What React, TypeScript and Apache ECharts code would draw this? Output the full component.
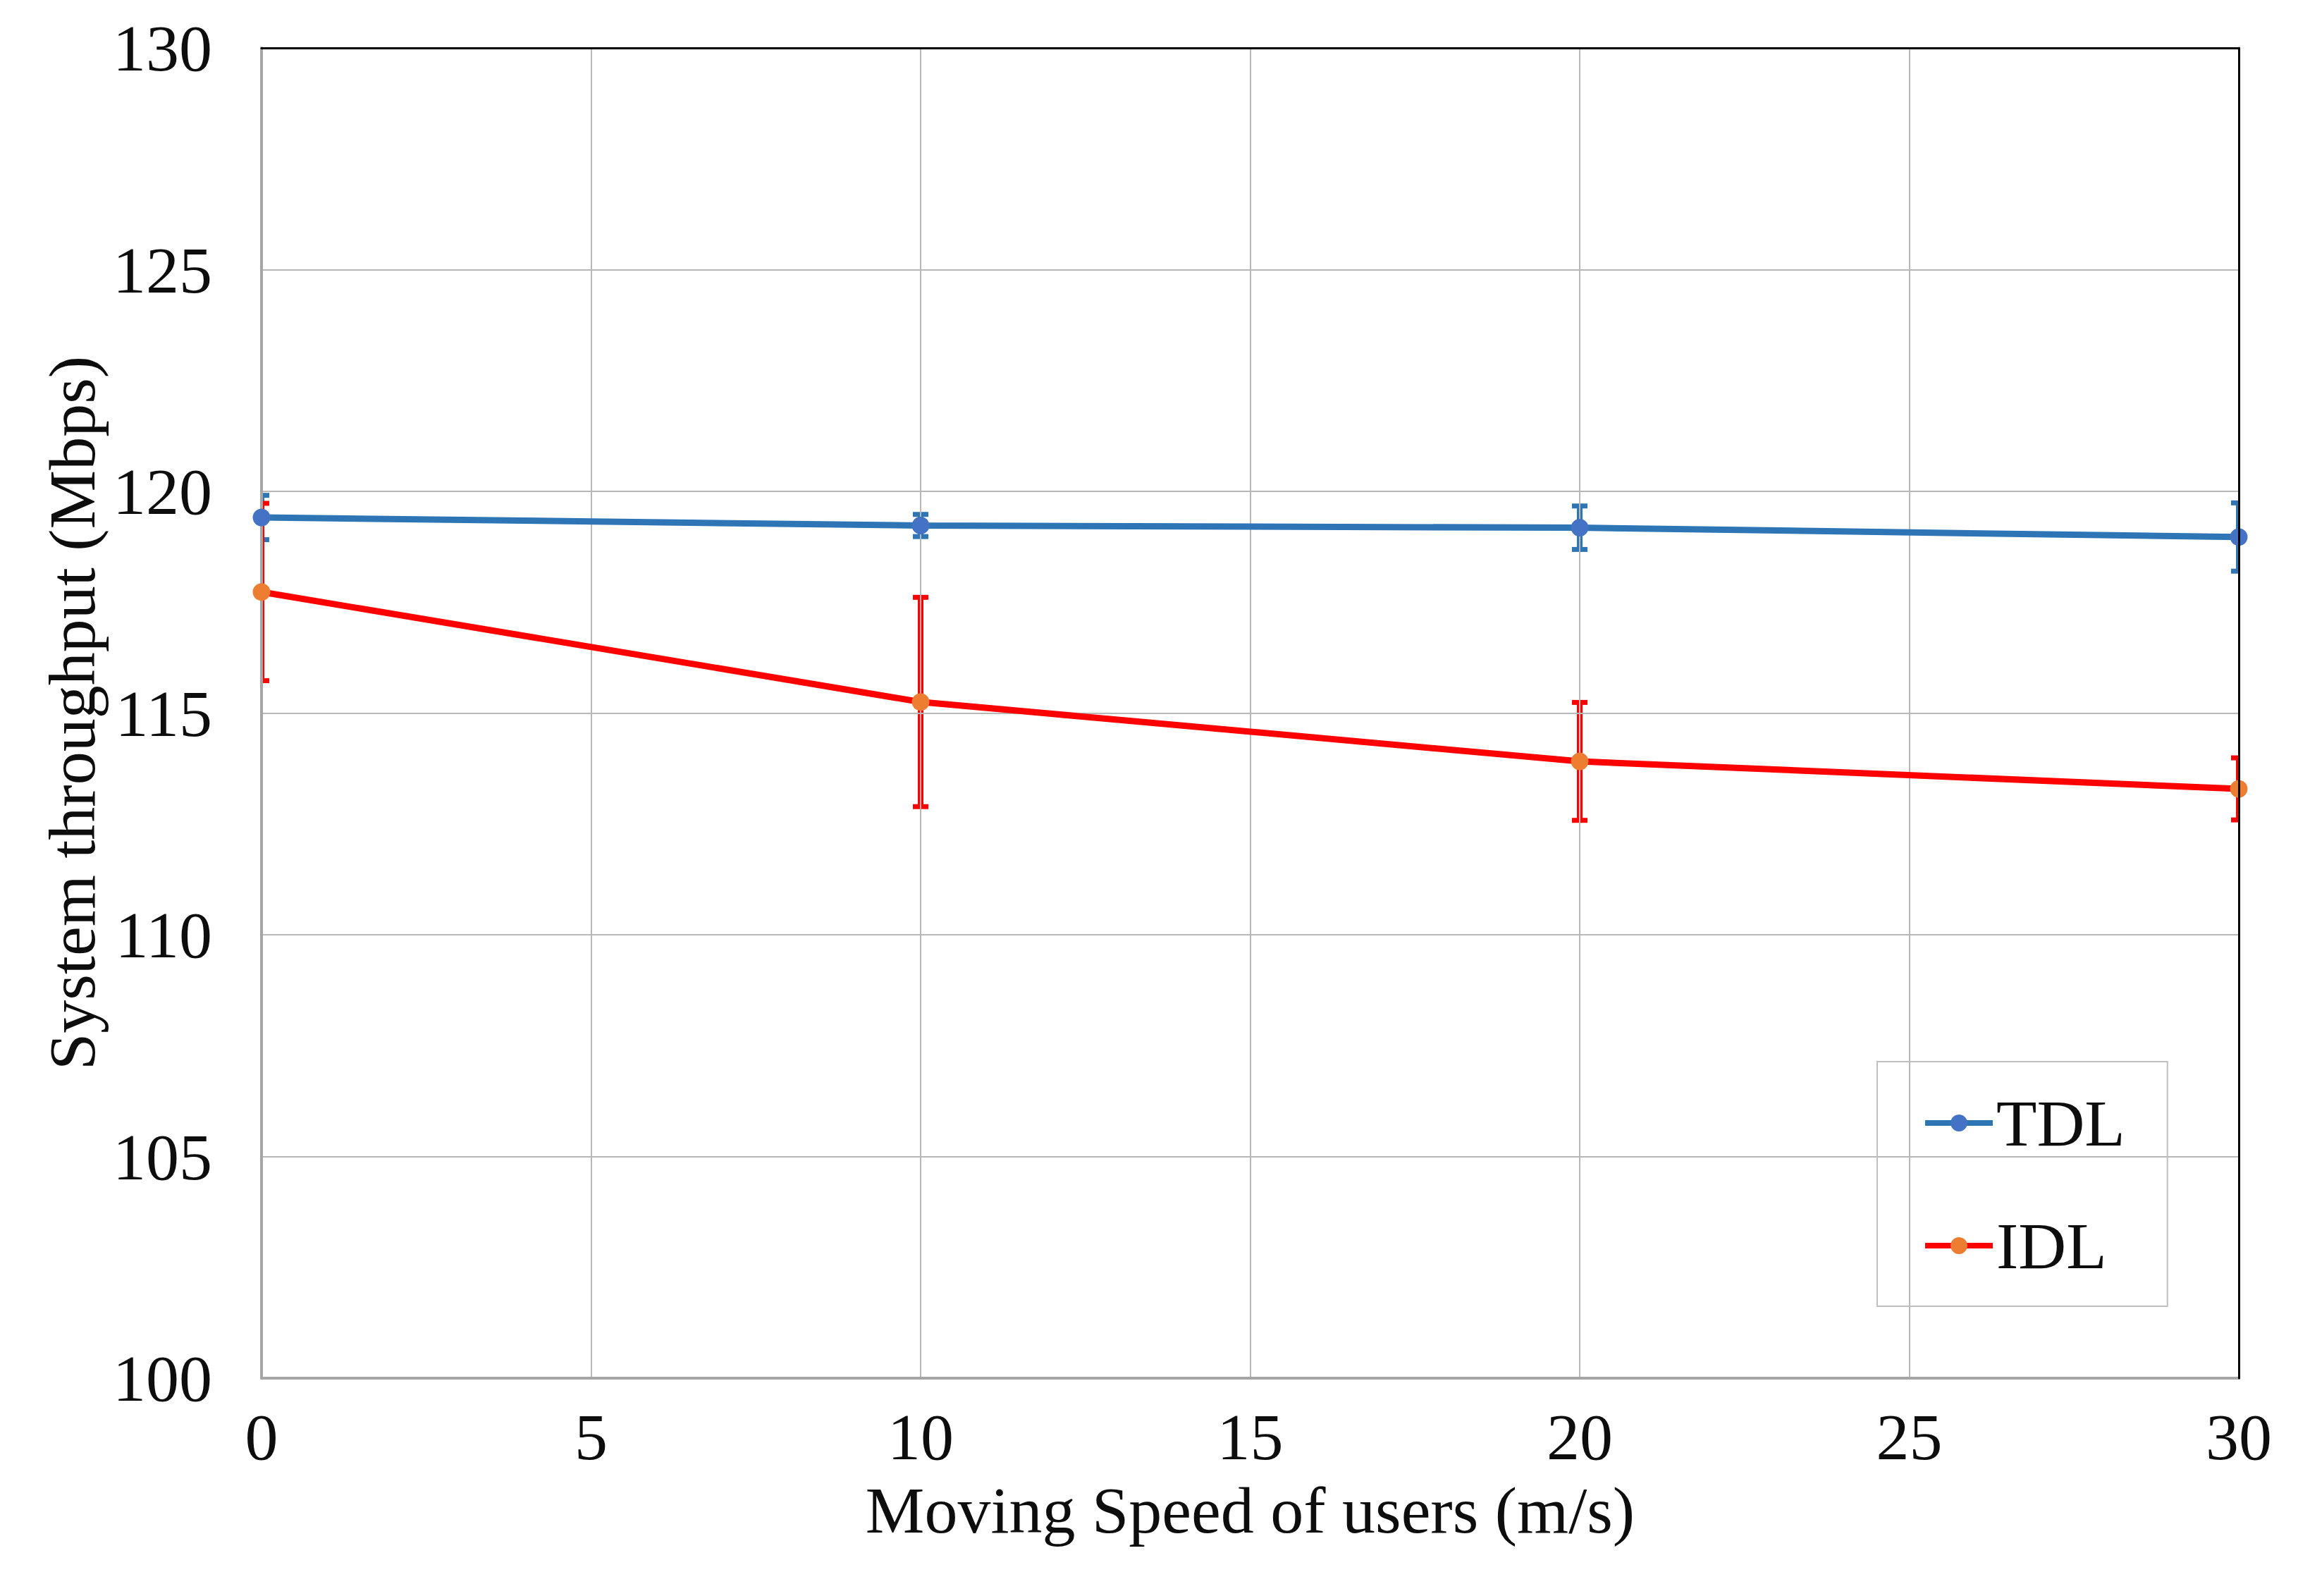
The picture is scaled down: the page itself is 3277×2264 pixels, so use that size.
import React, { useEffect, useRef } from "react";
import * as echarts from "echarts";

const speeds = [0, 10, 20, 30];
const tdlValues = [119.41, 119.23, 119.18, 118.97];
const tdlErrors = [0.5, 0.25, 0.49, 0.77];
const idlValues = [117.73, 115.25, 113.91, 113.29];
const idlErrors = [2.0, 2.36, 1.33, 0.7];
const xTicks = { min: 0, max: 30, interval: 5 };
const yTicks = { min: 100, max: 130, interval: 5 };

const FONT = "'Liberation Serif', 'Times New Roman', serif";

function errorSeries(name: string, values: number[], errors: number[], color: string) {
  return {
    type: "custom",
    name: name + " error",
    clip: true,
    z: 1,
    silent: true,
    data: speeds.map((s, i) => [s, values[i] - errors[i], values[i] + errors[i]]),
    encode: { x: 0, y: [1, 2] },
    renderItem: (params: any, api: any) => {
      const x = api.value(0);
      const lo = api.coord([x, api.value(1)]);
      const hi = api.coord([x, api.value(2)]);
      const cw = 22;
      const ch = 7;
      return {
        type: "group",
        children: [
          { type: "line", shape: { x1: lo[0], y1: lo[1], x2: hi[0], y2: hi[1] }, style: { stroke: color, lineWidth: 8 } },
          { type: "rect", shape: { x: hi[0] - cw / 2, y: hi[1] - ch / 2, width: cw, height: ch }, style: { fill: color } },
          { type: "rect", shape: { x: lo[0] - cw / 2, y: lo[1] - ch / 2, width: cw, height: ch }, style: { fill: color } },
        ],
      };
    },
  };
}

const frameAxis = {
  show: true,
  axisLine: { show: true, onZero: false, lineStyle: { color: "#000000", width: 3 } },
  axisTick: { show: false },
  axisLabel: { show: false },
  splitLine: { show: false },
};

export default function App() {
  const ref = useRef<HTMLDivElement>(null);
  useEffect(() => {
    document.body.style.margin = "0";
    const chart = echarts.init(ref.current!, undefined, { renderer: "svg" });
    chart.setOption({
      animation: false,
      backgroundColor: "#ffffff",
      textStyle: { fontFamily: FONT },
      grid: {
        left: 371,
        top: 68,
        right: 101,
        bottom: 309,
        show: false,
      },
      xAxis: [
        {
          type: "value",
          min: xTicks.min,
          max: xTicks.max,
          interval: xTicks.interval,
          name: "Moving Speed of users (m/s)",
          nameLocation: "middle",
          nameGap: 140,
          nameTextStyle: { fontSize: 94, fontFamily: FONT, color: "#0d0d0d" },
          axisLine: { show: true, onZero: false, lineStyle: { color: "#a6a6a6", width: 4 } },
          axisTick: { show: false },
          axisLabel: { fontSize: 94, fontFamily: FONT, color: "#0d0d0d", margin: 36 },
          splitLine: { show: true, lineStyle: { color: "#b8b8b8", width: 2 } },
          z: 2,
        },
        {
          type: "value",
          position: "top",
          min: xTicks.min,
          max: xTicks.max,
          interval: xTicks.interval,
          ...frameAxis,
          z: 4,
        },
      ],
      yAxis: [
        {
          type: "value",
          min: yTicks.min,
          max: yTicks.max,
          interval: yTicks.interval,
          name: "System throughput (Mbps)",
          nameLocation: "middle",
          nameGap: 222,
          nameTextStyle: { fontSize: 94, fontFamily: FONT, color: "#0d0d0d" },
          axisLine: { show: true, lineStyle: { color: "#a6a6a6", width: 4 } },
          axisTick: { show: false },
          axisLabel: { fontSize: 94, fontFamily: FONT, color: "#0d0d0d", margin: 70 },
          splitLine: { show: true, lineStyle: { color: "#b8b8b8", width: 2 } },
          z: 2,
        },
        {
          type: "value",
          position: "right",
          min: yTicks.min,
          max: yTicks.max,
          interval: yTicks.interval,
          ...frameAxis,
          z: 4,
        },
      ],
      legend: {
        data: ["TDL", "IDL"],
        orient: "vertical",
        left: 2663,
        top: 1506,
        padding: [37, 60, 36, 64],
        itemGap: 74,
        itemWidth: 96,
        itemHeight: 30,
        borderColor: "#bfbfbf",
        borderWidth: 2,
        backgroundColor: "transparent",
        lineStyle: { width: 8 },
        textStyle: { fontSize: 94, fontFamily: FONT, color: "#0d0d0d", lineHeight: 100 },
      },
      series: [
        errorSeries("TDL", tdlValues, tdlErrors, "#2E75B6"),
        errorSeries("IDL", idlValues, idlErrors, "#FF0000"),
        {
          type: "line",
          name: "TDL",
          z: 3,
          data: speeds.map((s, i) => [s, tdlValues[i]]),
          symbol: "circle",
          symbolSize: 25,
          showSymbol: true,
          lineStyle: { color: "#2E75B6", width: 9 },
          itemStyle: { color: "#4472C4" },
          clip: false,
        },
        {
          type: "line",
          name: "IDL",
          z: 3,
          data: speeds.map((s, i) => [s, idlValues[i]]),
          symbol: "circle",
          symbolSize: 25,
          showSymbol: true,
          lineStyle: { color: "#FF0000", width: 9 },
          itemStyle: { color: "#ED7D31" },
          clip: false,
        },
      ],
    });
    return () => chart.dispose();
  }, []);
  return <div ref={ref} style={{ width: 3277, height: 2264 }} />;
}
